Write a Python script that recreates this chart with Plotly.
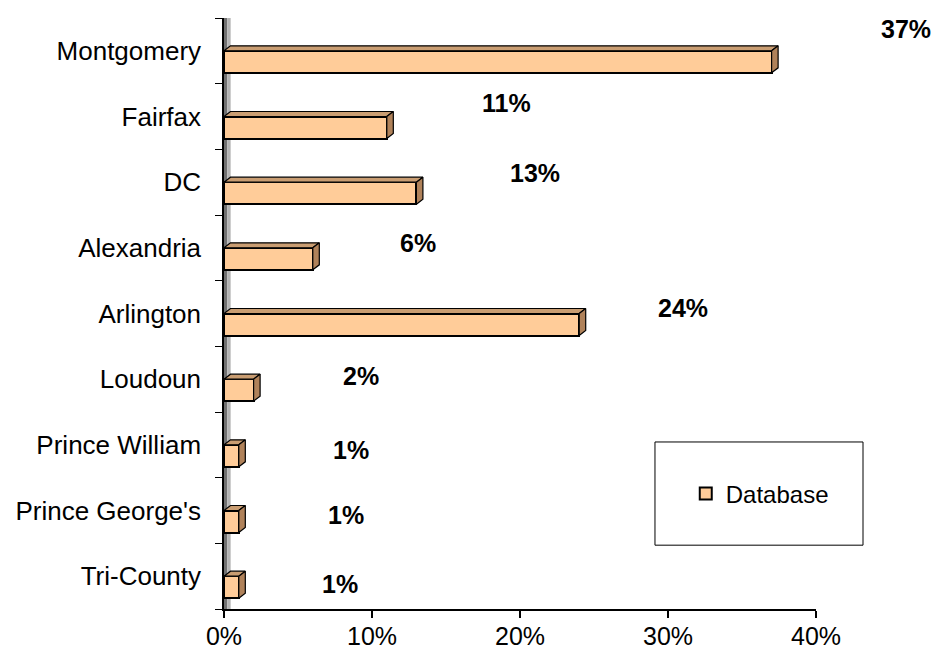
import plotly.graph_objects as go

# Share of records by jurisdiction
regions = ["Montgomery", "Fairfax", "DC", "Alexandria", "Arlington",
           "Loudoun", "Prince William", "Prince George's", "Tri-County"]
share = [37, 11, 13, 6, 24, 2, 1, 1, 1]
series_name = "Database"

# Label placement (pixel offsets from the bar end), 3-D look
label_dx = [134, 120, 119, 105, 104, 107, 112, 107, 101]
label_dy = [22, 14, 9, 5, 6, 3, -5, -4, -8]

FRONT = "#FFCC99"
TOP = "#C99D72"
SIDE = "#B0825A"
FONT = "Liberation Sans, Arial, sans-serif"

n = len(regions)
centers = [n - 1 - i for i in range(n)]     # first category on top
bar_h = 0.335                                # front-face height (y units)
dx = 0.44                                    # depth offset (x units)
dy = 0.076                                   # depth offset (y units)

fig = go.Figure()

# front faces
fig.add_trace(go.Bar(
    x=share, y=[c - bar_h / 2 for c in centers], width=bar_h,
    orientation="h", name=series_name,
    marker=dict(color=FRONT, line=dict(color="black", width=2)),
    hoverinfo="skip",
))

# top and side faces
for v, c in zip(share, centers):
    yt = c
    yb = c - bar_h
    fig.add_trace(go.Scatter(
        x=[0, v, v + dx, dx, 0], y=[yt, yt, yt + dy, yt + dy, yt],
        mode="lines", fill="toself", fillcolor=TOP,
        line=dict(color="black", width=1.2), showlegend=False, hoverinfo="skip"))
    fig.add_trace(go.Scatter(
        x=[v, v + dx, v + dx, v, v], y=[yt, yt + dy, yb + dy, yb, yt],
        mode="lines", fill="toself", fillcolor=SIDE,
        line=dict(color="black", width=1.2), showlegend=False, hoverinfo="skip"))

# value labels
for v, c, ox, oy in zip(share, centers, label_dx, label_dy):
    fig.add_annotation(x=v, y=c, xref="x", yref="y", text=f"<b>{v}%</b>",
                       showarrow=False, xshift=ox, yshift=oy,
                       font=dict(family=FONT, size=25, color="black"))

# side wall
fig.add_shape(type="rect", xref="x", yref="y", x0=0, x1=0.22, y0=-0.5, y1=8.5,
              fillcolor="#707070", line=dict(width=0), layer="below")
fig.add_shape(type="rect", xref="x", yref="y", x0=0.22, x1=0.45, y0=-0.5, y1=8.5,
              fillcolor="#b4b4b4", line=dict(width=0), layer="below")

# legend frame
fig.add_shape(type="rect", xref="paper", yref="paper",
              x0=0.728, x1=1.0794, y0=0.108, y1=0.2826,
              line=dict(color="black", width=1), fillcolor="white", layer="below")

fig.update_layout(
    width=937, height=652,
    margin=dict(l=224, r=121, t=18, b=43, autoexpand=False),
    plot_bgcolor="white", paper_bgcolor="white",
    bargap=0,
    showlegend=True,
    legend=dict(x=0.905, y=0.1946, xanchor="center", yanchor="middle",
                bgcolor="rgba(0,0,0,0)", borderwidth=0,
                itemwidth=30,
                font=dict(family=FONT, size=24, color="black")),
    font=dict(family=FONT, color="black"),
)

fig.update_xaxes(
    range=[0, 40], tickvals=[0, 10, 20, 30, 40],
    ticktext=["0%", "10%", "20%", "30%", "40%"],
    showgrid=False, zeroline=False, automargin=False,
    showline=True, linecolor="black", linewidth=1.5,
    ticks="outside", ticklen=7, tickwidth=1.5, tickcolor="black",
    ticklabelstandoff=-3,
    tickfont=dict(family=FONT, size=25),
)
fig.update_yaxes(
    range=[-0.5, 8.5], tickvals=centers, ticktext=regions,
    showgrid=False, zeroline=False, automargin=False,
    showline=True, linecolor="black", linewidth=1.5,
    ticks="outside", ticklen=16, tickcolor="rgba(0,0,0,0)",
    minor=dict(tickmode="linear", tick0=0.5, dtick=1, ticks="outside",
               ticklen=7, tickwidth=1, tickcolor="black", showgrid=False),
    tickfont=dict(family=FONT, size=26),
)

fig.write_html("out.html")
